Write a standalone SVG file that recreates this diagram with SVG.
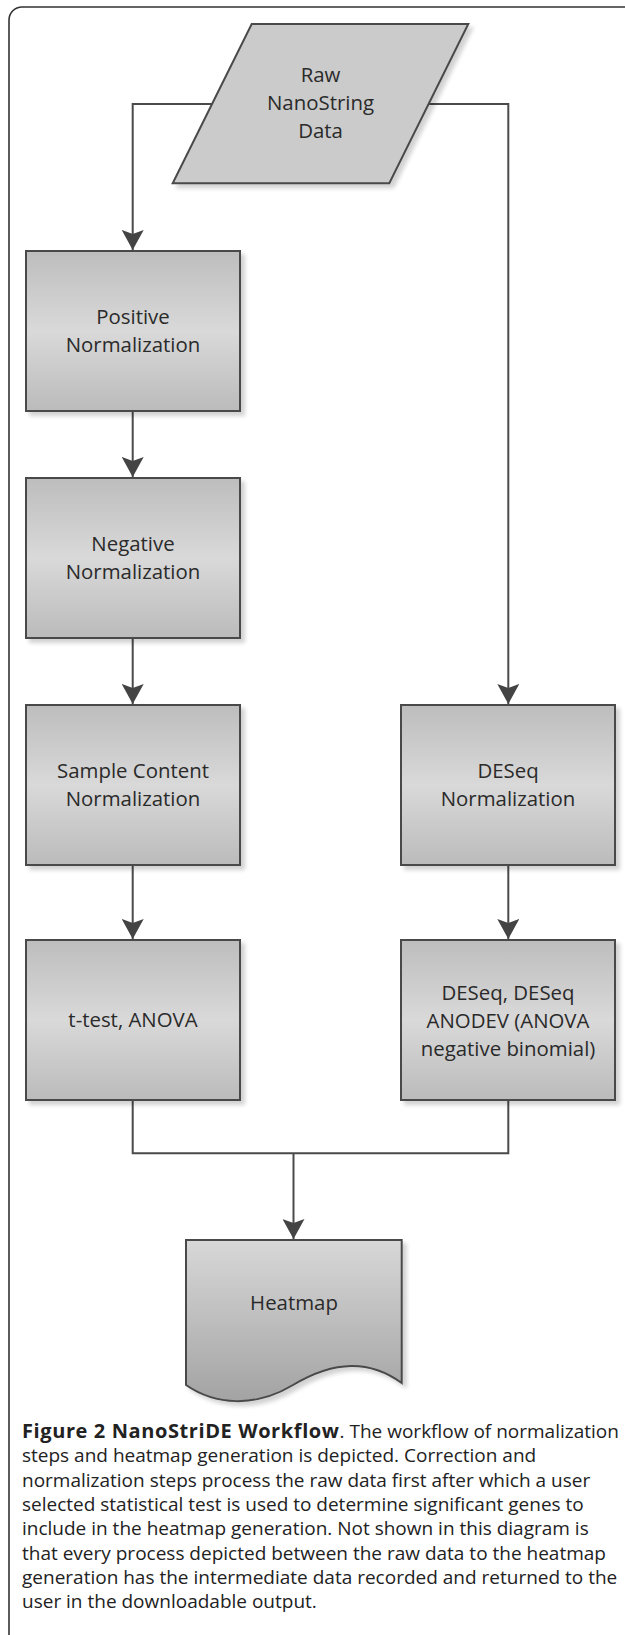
<svg xmlns="http://www.w3.org/2000/svg" width="625" height="1635" viewBox="0 0 625 1635">
<style>
.frame{fill:none;stroke:#333;stroke-width:1.6}
.node{stroke:#4a4a4a;stroke-width:2}
.conn{fill:none;stroke:#4a4a4a;stroke-width:2}
.lbl{font-family:"Open Sans","Noto Sans",sans-serif;font-size:20.4px;fill:#2a2a2a;text-anchor:middle}
.cap{font-family:"Open Sans","Noto Sans",sans-serif;font-size:19px;fill:#222}
.b{font-weight:bold;font-size:20px;letter-spacing:0.6px}
</style>
<defs>
<linearGradient id="boxGrad" x1="0" y1="0" x2="0" y2="1">
<stop offset="0" stop-color="#bdbdbd"/>
<stop offset="0.5" stop-color="#d9d9d9"/>
<stop offset="1" stop-color="#bbbbbb"/>
</linearGradient>
<linearGradient id="docGrad" x1="0" y1="0" x2="0" y2="1">
<stop offset="0" stop-color="#d8d8d8"/>
<stop offset="1" stop-color="#a3a3a3"/>
</linearGradient>
<filter id="sh" x="-10%" y="-10%" width="130%" height="130%">
<feGaussianBlur in="SourceAlpha" stdDeviation="2"/>
<feOffset dx="4" dy="4" result="o"/>
<feComponentTransfer><feFuncA type="linear" slope="0.18"/></feComponentTransfer>
<feMerge><feMergeNode/><feMergeNode in="SourceGraphic"/></feMerge>
</filter>
<marker id="arr" viewBox="0 0 20 22" refX="20" refY="11" markerWidth="20" markerHeight="22" markerUnits="userSpaceOnUse" orient="auto">
<path d="M0,0 L20,11 L0,22 L4,11 z" fill="#444"/>
</marker>
</defs>
<rect width="625" height="1635" fill="#fff"/>
<path class="frame" d="M9,1635 V20 A13,13 0 0 1 22,7 H625"/>

<g id="connectors">
<path class="conn" d="M212,104 H132.7 V250" marker-end="url(#arr)"/>
<path class="conn" d="M428.6,104 H508.3 V704" marker-end="url(#arr)"/>
<path class="conn" d="M132.7,411 V477" marker-end="url(#arr)"/>
<path class="conn" d="M132.7,638 V704" marker-end="url(#arr)"/>
<path class="conn" d="M132.7,865 V939" marker-end="url(#arr)"/>
<path class="conn" d="M508.3,865 V939" marker-end="url(#arr)"/>
<path class="conn" d="M132.7,1100 V1153.3 H508.3 V1100"/>
<path class="conn" d="M293.5,1153.3 V1239" marker-end="url(#arr)"/>
</g>

<g id="raw">
<polygon class="node" points="251.7,24 468.3,24 389.3,183.3 172.7,183.3" fill="#cbcbcb" filter="url(#sh)"/>
<text class="lbl" x="320.5"><tspan x="320.5" y="82">Raw</tspan><tspan x="320.5" y="110">NanoString</tspan><tspan x="320.5" y="138">Data</tspan></text>
</g>

<g id="positive">
<rect class="node" x="26" y="251" width="214" height="160" fill="url(#boxGrad)" filter="url(#sh)"/>
<text class="lbl"><tspan x="133" y="324">Positive</tspan><tspan x="133" y="352">Normalization</tspan></text>
</g>

<g id="negative">
<rect class="node" x="26" y="478" width="214" height="160" fill="url(#boxGrad)" filter="url(#sh)"/>
<text class="lbl"><tspan x="133" y="551">Negative</tspan><tspan x="133" y="579">Normalization</tspan></text>
</g>

<g id="sample">
<rect class="node" x="26" y="705" width="214" height="160" fill="url(#boxGrad)" filter="url(#sh)"/>
<text class="lbl"><tspan x="133" y="778">Sample Content</tspan><tspan x="133" y="806">Normalization</tspan></text>
</g>

<g id="ttest">
<rect class="node" x="26" y="940" width="214" height="160" fill="url(#boxGrad)" filter="url(#sh)"/>
<text class="lbl" x="133" y="1027">t-test, ANOVA</text>
</g>

<g id="deseqnorm">
<rect class="node" x="401" y="705" width="214" height="160" fill="url(#boxGrad)" filter="url(#sh)"/>
<text class="lbl"><tspan x="508" y="778">DESeq</tspan><tspan x="508" y="806">Normalization</tspan></text>
</g>

<g id="deseqtest">
<rect class="node" x="401" y="940" width="214" height="160" fill="url(#boxGrad)" filter="url(#sh)"/>
<text class="lbl"><tspan x="508" y="1000">DESeq, DESeq</tspan><tspan x="508" y="1028">ANODEV (ANOVA</tspan><tspan x="508" y="1056">negative binomial)</tspan></text>
</g>

<g id="heatmap">
<path class="node" d="M186,1240 H401.7 V1383 C370,1360 335,1360 293,1385 C255,1408 215,1405 186,1385 Z" fill="url(#docGrad)" filter="url(#sh)"/>
<text class="lbl" x="294" y="1310">Heatmap</text>
</g>

<g id="caption">
<text class="cap" x="22" y="1438"><tspan class="b">Figure 2 NanoStriDE Workflow</tspan>. The workflow of normalization</text>
<text class="cap" x="22" y="1462">steps and heatmap generation is depicted. Correction and</text>
<text class="cap" x="22" y="1487">normalization steps process the raw data first after which a user</text>
<text class="cap" x="22" y="1511">selected statistical test is used to determine significant genes to</text>
<text class="cap" x="22" y="1535">include in the heatmap generation. Not shown in this diagram is</text>
<text class="cap" x="22" y="1560">that every process depicted between the raw data to the heatmap</text>
<text class="cap" x="22" y="1584">generation has the intermediate data recorded and returned to the</text>
<text class="cap" x="22" y="1608">user in the downloadable output.</text>
</g>
</svg>
